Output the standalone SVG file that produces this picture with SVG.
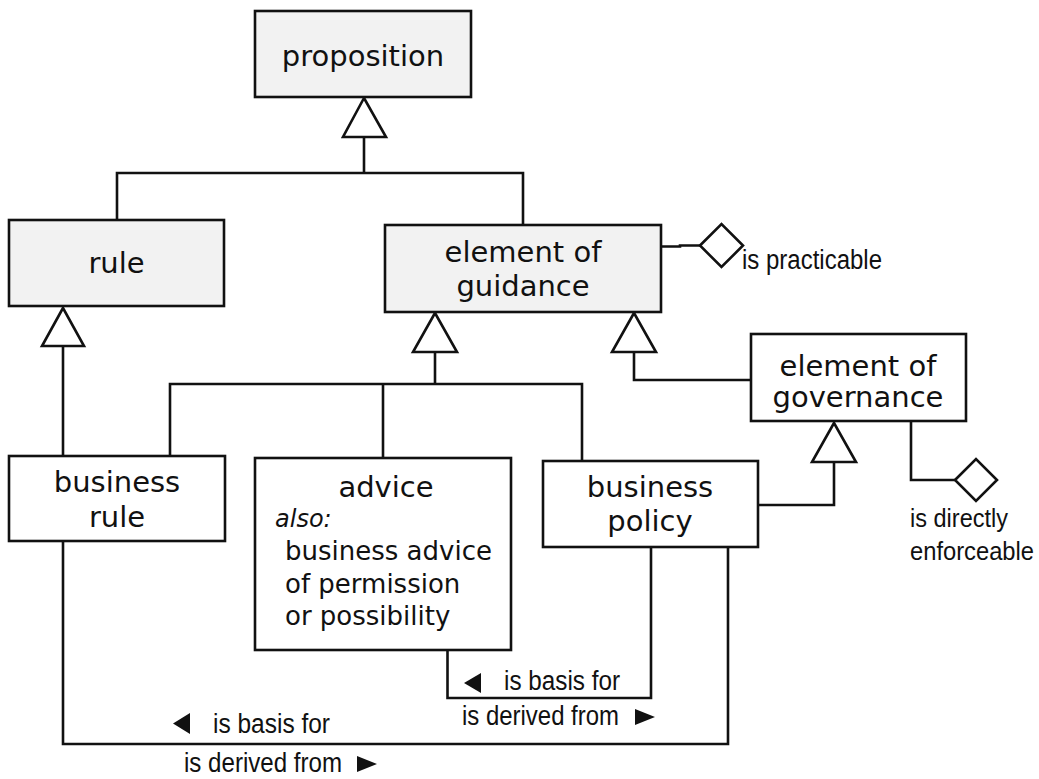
<svg xmlns="http://www.w3.org/2000/svg" width="1039" height="779" viewBox="0 0 1039 779">
<style>
.box{fill:#fff;stroke:#111;stroke-width:2.6}
.grey{fill:#f2f2f2}
.ttl{font-family:"DejaVu Sans",Verdana,sans-serif;font-size:29px;fill:#111;text-anchor:middle}
.desc{font-family:"DejaVu Sans",Verdana,sans-serif;font-size:26px;fill:#111}
.it{font-family:"DejaVu Sans",Verdana,sans-serif;font-size:24px;font-style:italic;fill:#111}
.lbl{font-family:"Liberation Sans",Arial,sans-serif;font-size:27px;fill:#111}
.lbl2{font-family:"Liberation Sans",Arial,sans-serif;font-size:25px;fill:#111}
.ln{fill:none;stroke:#111;stroke-width:2.6}
.tri{fill:#fff;stroke:#111;stroke-width:2.6;stroke-linejoin:miter}
.dir{fill:#111;stroke:none}
</style>
<rect width="1039" height="779" fill="#fff"/>
<g id="connectors">
  <polyline class="ln" points="117,220 117,173 523,173 523,225"/>
  <line class="ln" x1="364" y1="173" x2="364" y2="137"/>
  <polygon class="tri" points="364,98 343,137 386,137"/>
  <line class="ln" x1="63" y1="346" x2="63" y2="456"/>
  <polygon class="tri" points="63,308 42,346 84,346"/>
  <line class="ln" x1="435" y1="352" x2="435" y2="384"/>
  <polyline class="ln" points="170,456 170,384 582,384 582,461"/>
  <line class="ln" x1="383" y1="384" x2="383" y2="458"/>
  <polygon class="tri" points="435,313 413,352 457,352"/>
  <polyline class="ln" points="634,352 634,380 751,380"/>
  <polygon class="tri" points="634,313 612,352 656,352"/>
  <polyline class="ln" points="834,462 834,505 758,505"/>
  <polygon class="tri" points="834,423 812,462 856,462"/>
  <polyline class="ln" points="661,246.5 680,246.5 680,245.5 700,245.5"/>
  <polygon class="tri" points="700,245.5 721.5,224 743,245.5 721.5,267"/>
  <polyline class="ln" points="911,421 911,480 955,480"/>
  <polygon class="tri" points="955,480 976,459 997,480 976,501"/>
  <polyline class="ln" points="447.5,650 447.5,698 651,698 651,547"/>
  <polyline class="ln" points="63,541 63,744 728,744 728,547"/>
  <text class="lbl" x="742" y="269" textLength="140" lengthAdjust="spacingAndGlyphs">is practicable</text>
  <text class="lbl2" x="910" y="527" textLength="98" lengthAdjust="spacingAndGlyphs">is directly</text>
  <text class="lbl2" x="910" y="560" textLength="124" lengthAdjust="spacingAndGlyphs">enforceable</text>
  <polygon class="dir" points="481,673 464,683 481,693"/>
  <text class="lbl" x="504" y="690" textLength="116" lengthAdjust="spacingAndGlyphs">is basis for</text>
  <text class="lbl" x="462" y="725" textLength="157" lengthAdjust="spacingAndGlyphs">is derived from</text>
  <polygon class="dir" points="635,709 655,717 635,725"/>
  <polygon class="dir" points="190,713 173,723.5 190,734"/>
  <text class="lbl" x="213" y="733" textLength="117" lengthAdjust="spacingAndGlyphs">is basis for</text>
  <text class="lbl" x="184" y="772" textLength="158" lengthAdjust="spacingAndGlyphs">is derived from</text>
  <polygon class="dir" points="357,756 377,764 357,772"/>
</g>
<g id="proposition">
  <rect class="box grey" x="255" y="11" width="216" height="86"/>
  <text class="ttl" x="363" y="66">proposition</text>
</g>
<g id="rule">
  <rect class="box grey" x="9" y="220" width="215" height="86"/>
  <text class="ttl" x="116.5" y="273">rule</text>
</g>
<g id="element-of-guidance">
  <rect class="box grey" x="385" y="225" width="276" height="87"/>
  <text class="ttl" x="523" y="262">element of</text>
  <text class="ttl" x="523" y="296">guidance</text>
</g>
<g id="element-of-governance">
  <rect class="box" x="751" y="334" width="215" height="87"/>
  <text class="ttl" x="858" y="376">element of</text>
  <text class="ttl" x="858" y="407">governance</text>
</g>
<g id="business-rule">
  <rect class="box" x="9" y="456" width="216" height="85"/>
  <text class="ttl" x="117" y="492">business</text>
  <text class="ttl" x="117" y="527">rule</text>
</g>
<g id="advice">
  <rect class="box" x="255" y="458" width="256" height="192"/>
  <text class="ttl" x="386" y="497">advice</text>
  <text class="it" x="275" y="527">also:</text>
  <text class="desc" x="285" y="560">business advice</text>
  <text class="desc" x="285" y="593">of permission</text>
  <text class="desc" x="285" y="625">or possibility</text>
</g>
<g id="business-policy">
  <rect class="box" x="543" y="461" width="215" height="86"/>
  <text class="ttl" x="650" y="497">business</text>
  <text class="ttl" x="650" y="531">policy</text>
</g>
</svg>
